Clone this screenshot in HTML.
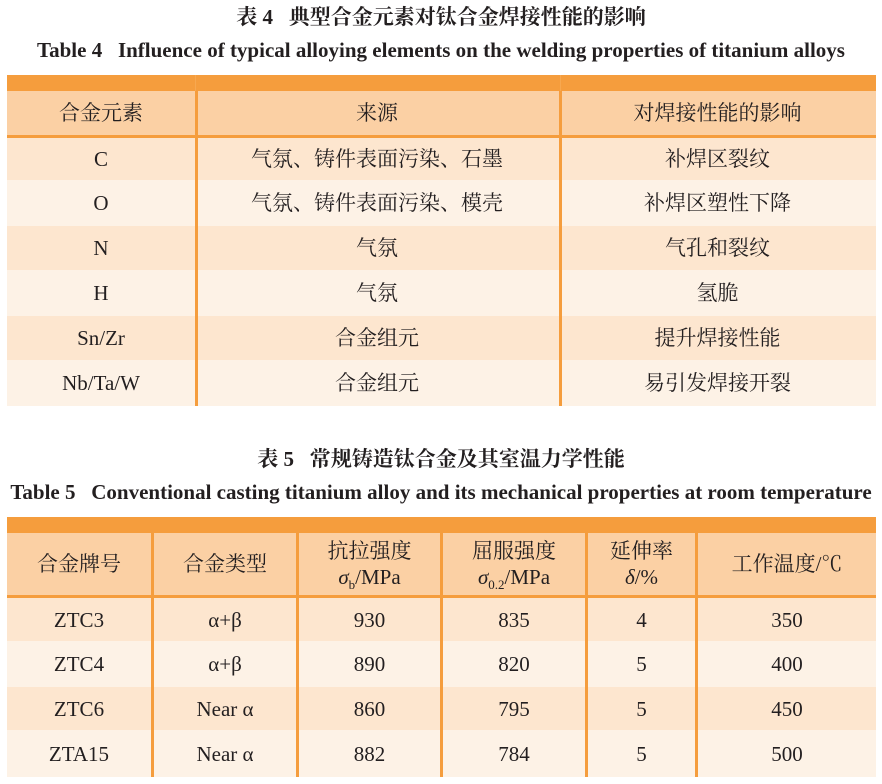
<!DOCTYPE html>
<html><head><meta charset="utf-8"><style>
body{margin:0;width:882px;height:784px;background:#fff;position:relative;overflow:hidden;font-family:"Liberation Serif","Noto Serif CJK SC",serif;color:#231f20}
.t{position:absolute;left:0;width:882px;text-align:center;font-weight:bold;font-size:21px;white-space:nowrap;line-height:24px}
.r{position:absolute;left:7px;width:869px}
.c{position:absolute;top:0;bottom:0;display:flex;flex-direction:column;align-items:center;justify-content:center;text-align:center;font-size:21px;line-height:26px;white-space:nowrap}
.v{position:absolute;width:3px;background:#f59d3d}
.h{position:absolute;left:7px;width:869px;height:3px;background:#f59d3d}
i{font-style:italic}
sub{font-size:13px;line-height:0}
</style></head><body>
<div class="t" style="top:5px">表 4&nbsp;&nbsp;&nbsp;典型合金元素对钛合金焊接性能的影响</div>
<div class="t" style="top:38px">Table 4&nbsp;&nbsp;&nbsp;Influence of typical alloying elements on the welding properties of titanium alloys</div>
<div class="r" style="top:75px;height:16px;background:#f59d3d"></div>
<div class="r" style="top:91px;height:44px;background:#fbd0a4"></div>
<div class="h" style="top:135px"></div>
<div class="r" style="top:138px;height:42px;background:#fde6cf"></div>
<div class="r" style="top:180px;height:46px;background:#fdf2e6"></div>
<div class="r" style="top:226px;height:44px;background:#fde6cf"></div>
<div class="r" style="top:270px;height:46px;background:#fdf2e6"></div>
<div class="r" style="top:316px;height:44px;background:#fde6cf"></div>
<div class="r" style="top:360px;height:46px;background:#fdf2e6"></div>
<div class="v" style="left:195px;top:91px;height:315px"></div>
<div class="v" style="left:559px;top:91px;height:315px"></div>
<div class="v" style="left:195px;top:75px;height:16px;background:#f7a850;width:1px"></div>
<div class="v" style="left:560px;top:75px;height:16px;background:#f7a850;width:1px"></div>

<div class="r" style="top:91px;height:44px"><div class="c" style="left:0;width:188px">合金元素</div><div class="c" style="left:188px;width:364px">来源</div><div class="c" style="left:552px;width:317px">对焊接性能的影响</div></div>
<div class="r" style="top:138px;height:42px"><div class="c" style="left:0;width:188px">C</div><div class="c" style="left:188px;width:364px">气氛、铸件表面污染、石墨</div><div class="c" style="left:552px;width:317px">补焊区裂纹</div></div>
<div class="r" style="top:180px;height:46px"><div class="c" style="left:0;width:188px">O</div><div class="c" style="left:188px;width:364px">气氛、铸件表面污染、模壳</div><div class="c" style="left:552px;width:317px">补焊区塑性下降</div></div>
<div class="r" style="top:226px;height:44px"><div class="c" style="left:0;width:188px">N</div><div class="c" style="left:188px;width:364px">气氛</div><div class="c" style="left:552px;width:317px">气孔和裂纹</div></div>
<div class="r" style="top:270px;height:46px"><div class="c" style="left:0;width:188px">H</div><div class="c" style="left:188px;width:364px">气氛</div><div class="c" style="left:552px;width:317px">氢脆</div></div>
<div class="r" style="top:316px;height:44px"><div class="c" style="left:0;width:188px">Sn/Zr</div><div class="c" style="left:188px;width:364px">合金组元</div><div class="c" style="left:552px;width:317px">提升焊接性能</div></div>
<div class="r" style="top:360px;height:46px"><div class="c" style="left:0;width:188px">Nb/Ta/W</div><div class="c" style="left:188px;width:364px">合金组元</div><div class="c" style="left:552px;width:317px">易引发焊接开裂</div></div>

<div class="t" style="top:447px">表 5&nbsp;&nbsp;&nbsp;常规铸造钛合金及其室温力学性能</div>
<div class="t" style="top:480px">Table 5&nbsp;&nbsp;&nbsp;Conventional casting titanium alloy and its mechanical properties at room temperature</div>
<div class="r" style="top:517px;height:16px;background:#f59d3d"></div>
<div class="r" style="top:533px;height:62px;background:#fbd0a4"></div>
<div class="h" style="top:595px"></div>
<div class="r" style="top:598px;height:43px;background:#fde6cf"></div>
<div class="r" style="top:641px;height:46px;background:#fdf2e6"></div>
<div class="r" style="top:687px;height:43px;background:#fde6cf"></div>
<div class="r" style="top:730px;height:47px;background:#fdf2e6"></div>
<div class="v" style="left:151px;top:533px;height:244px"></div>
<div class="v" style="left:296px;top:533px;height:244px"></div>
<div class="v" style="left:440px;top:533px;height:244px"></div>
<div class="v" style="left:585px;top:533px;height:244px"></div>
<div class="v" style="left:695px;top:533px;height:244px"></div>

<div class="r" style="top:533px;height:62px"><div class="c" style="left:0;width:144px">合金牌号</div><div class="c" style="left:147px;width:142px">合金类型</div><div class="c" style="left:292px;width:141px"><div>抗拉强度</div><div><i>σ</i><sub>b</sub>/MPa</div></div><div class="c" style="left:436px;width:142px"><div>屈服强度</div><div><i>σ</i><sub>0.2</sub>/MPa</div></div><div class="c" style="left:581px;width:107px"><div>延伸率</div><div><i>δ</i>/%</div></div><div class="c" style="left:691px;width:178px">工作温度/℃</div></div>
<div class="r" style="top:598px;height:43px"><div class="c" style="left:0;width:144px">ZTC3</div><div class="c" style="left:147px;width:142px">α+β</div><div class="c" style="left:292px;width:141px">930</div><div class="c" style="left:436px;width:142px">835</div><div class="c" style="left:581px;width:107px">4</div><div class="c" style="left:691px;width:178px">350</div></div>
<div class="r" style="top:641px;height:46px"><div class="c" style="left:0;width:144px">ZTC4</div><div class="c" style="left:147px;width:142px">α+β</div><div class="c" style="left:292px;width:141px">890</div><div class="c" style="left:436px;width:142px">820</div><div class="c" style="left:581px;width:107px">5</div><div class="c" style="left:691px;width:178px">400</div></div>
<div class="r" style="top:687px;height:43px"><div class="c" style="left:0;width:144px">ZTC6</div><div class="c" style="left:147px;width:142px">Near α</div><div class="c" style="left:292px;width:141px">860</div><div class="c" style="left:436px;width:142px">795</div><div class="c" style="left:581px;width:107px">5</div><div class="c" style="left:691px;width:178px">450</div></div>
<div class="r" style="top:730px;height:47px"><div class="c" style="left:0;width:144px">ZTA15</div><div class="c" style="left:147px;width:142px">Near α</div><div class="c" style="left:292px;width:141px">882</div><div class="c" style="left:436px;width:142px">784</div><div class="c" style="left:581px;width:107px">5</div><div class="c" style="left:691px;width:178px">500</div></div>
</body></html>
